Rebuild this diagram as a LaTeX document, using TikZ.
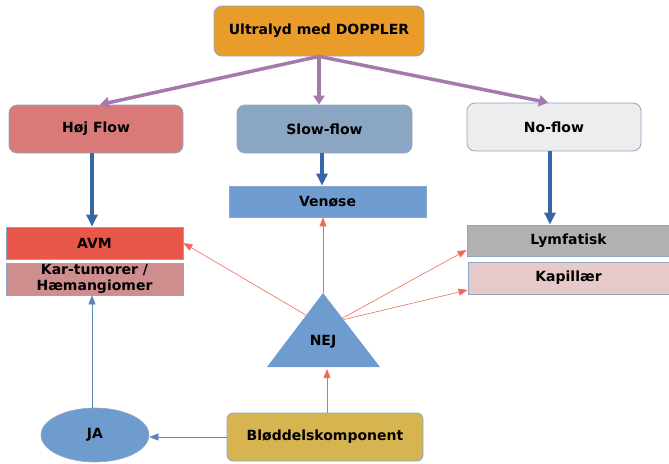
\documentclass[tikz,border=0pt]{standalone}
\usepackage{fontspec}
\setmainfont{DejaVu Sans}
\usetikzlibrary{arrows.meta,shapes.geometric,positioning,calc}
\definecolor{orangebox}{HTML}{E99C2A}
\definecolor{hojbox}{HTML}{D97A79}
\definecolor{slowbox}{HTML}{8AA6C3}
\definecolor{nobox}{HTML}{EDEDED}
\definecolor{venbox}{HTML}{6F9DD1}
\definecolor{avmbox}{HTML}{E9574B}
\definecolor{karbox}{HTML}{CE8E8E}
\definecolor{lymbox}{HTML}{B1B1B1}
\definecolor{kapbox}{HTML}{E8C9C9}
\definecolor{nejfill}{HTML}{6F9CCE}
\definecolor{blodbox}{HTML}{D6B450}
\definecolor{edge}{HTML}{8EA6C9}
\definecolor{purplearr}{HTML}{A679AC}
\definecolor{bluearr}{HTML}{3566A8}
\definecolor{redarr}{HTML}{F06A5B}
\definecolor{thinblue}{HTML}{5A84BA}

\begin{document}
\begin{tikzpicture}[x=1pt,y=-1pt,
  box/.style={rectangle, draw=edge, line width=0.8pt, font=\bfseries\fontsize{14}{16}\selectfont, text=black, align=center, inner sep=0pt},
  flowbox/.style={box, rounded corners=8pt, minimum width=174pt, minimum height=48pt},
  resultbox/.style={box, minimum height=32pt},
  purplearrow/.style={-{Triangle[width=11pt,length=9pt]}, purplearr, line width=3.5pt},
  bluearrow/.style={-{Triangle[width=11pt,length=12pt]}, bluearr, line width=3.5pt},
  redarrow/.style={-{Triangle[width=7pt,length=9pt]}, redarr, line width=0.6pt},
  jaarrow/.style={-{Triangle[width=7pt,length=9pt]}, thinblue, line width=0.6pt}]
\useasboundingbox (0,0) rectangle (669,463);

% top
\node [box, rounded corners=8pt, fill=orangebox, minimum width=210pt, minimum height=50pt] (doppler) at (319,31) {Ultralyd med DOPPLER};

% flow types
\node [flowbox, fill=hojbox] (hoj) at (96,129) {Høj Flow};
\node [flowbox, fill=slowbox, minimum width=175pt] (slow) at (324.5,129) {Slow-flow};
\node [flowbox, fill=nobox] (noflow) at (554,127) {No-flow};

% results
\node [resultbox, fill=venbox, minimum width=197pt, minimum height=31pt] (venose) at (327.5,201.5) {Venøse};
\node [resultbox, fill=avmbox, minimum width=177pt] (avm) at (94.5,243) {AVM};
\node [resultbox, fill=karbox, minimum width=177pt] (kar) at (94.5,279) {Kar-tumorer /\\Hæmangiomer};
\node [resultbox, fill=lymbox, minimum width=203pt, minimum height=31pt] (lymf) at (568.5,240.5) {Lymfatisk};
\node [resultbox, fill=kapbox, minimum width=201pt] (kapil) at (568.5,278) {Kapillær};

% NEJ triangle
\coordinate (apex) at (323,293);
\coordinate (lcorner) at (267,367);
\coordinate (rcorner) at (380,367);
\fill [nejfill] (apex) -- (lcorner) -- (rcorner) -- cycle;
\node [font=\bfseries\fontsize{14}{16}\selectfont] (nej) at (323,342) {NEJ};
\coordinate (nejleft) at ($(apex)!0.3!(lcorner)$);
\coordinate (nejright) at ($(apex)!0.34!(rcorner)$);
\coordinate (nejright2) at ($(apex)!0.36!(rcorner)$);
\coordinate (nejbase) at (327,369);

% bottom
\node [ellipse, fill=nejfill, draw=edge, line width=0.6pt, minimum width=108pt, minimum height=54pt, font=\bfseries\fontsize{14}{16}\selectfont] (ja) at (95,435) {JA};
\node [box, rounded corners=6pt, fill=blodbox, minimum width=196pt, minimum height=48pt] (blod) at (325,437) {Bløddelskomponent};

% arrows
\draw [purplearrow] (doppler.south) -- (hoj.north -| 100,0);
\draw [purplearrow] (doppler.south) -- (doppler.south |- slow.north);
\draw [purplearrow] (doppler.south) -- (noflow.north -| 548,0);

\draw [bluearrow] (hoj.south -| 92,0) -- (avm.north -| 92,0);
\draw [bluearrow] (slow.south -| 322,0) -- (venose.north -| 322,0);
\draw [bluearrow] (noflow.south -| 550,0) -- (lymf.north -| 550,0);

\draw [redarrow] (nejleft) -- (avm.east);
\draw [redarrow] (apex) -- (venose.south -| apex);
\draw [redarrow] (nejright) -- (lymf.west |- 0,250);
\draw [redarrow] (nejright2) -- (kapil.west |- 0,290);
\draw [redarrow] (blod.north -| nejbase) -- (nejbase);

\draw [jaarrow] (blod.west) -- (blod.west -| ja.east);
\draw [jaarrow] (ja.north -| 92,0) -- (kar.south -| 92,0);
\end{tikzpicture}
\end{document}
